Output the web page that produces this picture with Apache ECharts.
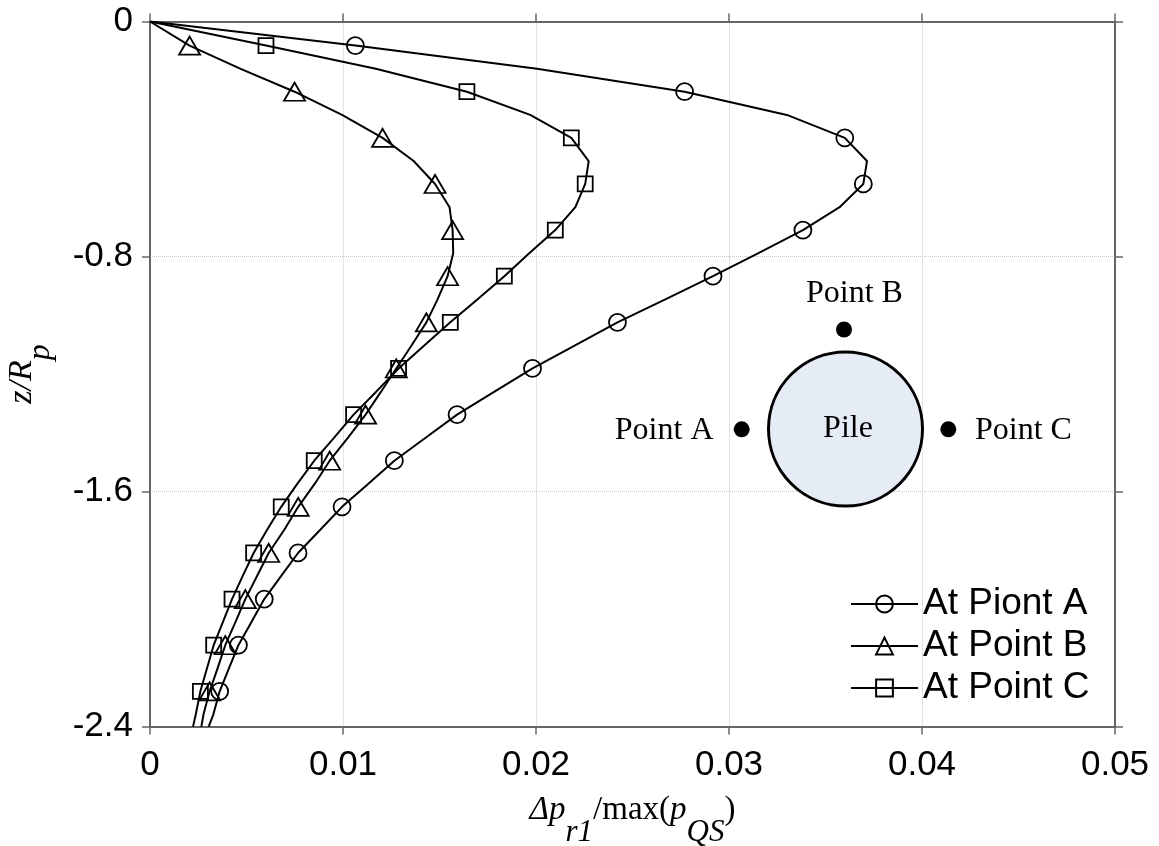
<!DOCTYPE html>
<html><head><meta charset="utf-8">
<script src="https://cdn.jsdelivr.net/npm/echarts@6/dist/echarts.min.js"></script>
<style>html,body{margin:0;padding:0;background:#fff}#c{width:1159px;height:846px}</style>
</head><body><div id="c"></div>
<script>
// depth z/Rp (positive downward); markers are at odd indices, last point is the bottom edge
const depth = [0, 0.082, 0.161, 0.239, 0.318, 0.396, 0.475, 0.553, 0.632, 0.710, 0.789, 0.867, 0.946, 1.024, 1.103, 1.181,
  1.260, 1.338, 1.417, 1.495, 1.574, 1.652, 1.731, 1.809, 1.888, 1.966, 2.045, 2.123, 2.202, 2.280, 2.359, 2.400];
const pointA = [0, 0.01064, 0.02005, 0.0277, 0.0330, 0.0360, 0.03715, 0.03696, 0.03573, 0.03383, 0.0315, 0.02917, 0.0267, 0.02422, 0.0220, 0.01982,
  0.01785, 0.01591, 0.01428, 0.01266, 0.0113, 0.00995, 0.00881, 0.00767, 0.00679, 0.00592, 0.00525, 0.00458, 0.00409, 0.00361, 0.00328, 0.00304];
const pointB = [0, 0.00205, 0.0047, 0.00749, 0.00995, 0.01205, 0.01366, 0.01477, 0.01552, 0.01568, 0.01571, 0.01542, 0.0149, 0.01432, 0.01355, 0.01276,
  0.01197, 0.01117, 0.01025, 0.00931, 0.00853, 0.00768, 0.00695, 0.00615, 0.00554, 0.00494, 0.00442, 0.0039, 0.0035, 0.00309, 0.00277, 0.00266];
const pointC = [0, 0.00601, 0.0117, 0.01642, 0.0197, 0.02183, 0.02273, 0.02255, 0.02204, 0.021, 0.01965, 0.01836, 0.01696, 0.01556, 0.01421, 0.01288,
  0.01172, 0.01055, 0.00953, 0.00851, 0.00763, 0.0068, 0.00606, 0.00537, 0.0048, 0.00425, 0.00377, 0.0033, 0.00295, 0.00261, 0.00237, 0.00223];
const seriesNames = ['At Piont A', 'At Point B', 'At Point C'];
const xTickLabels = ['0', '0.01', '0.02', '0.03', '0.04', '0.05'];
const yTickLabels = ['0', '-0.8', '-1.6', '-2.4'];

function build(xs) {
  return xs.map((x, i) => (i % 2 === 1 && i < xs.length - 1)
    ? { value: [x, -depth[i]] }
    : { value: [x, -depth[i]], symbol: 'none' });
}
const AX = '#666';
const serif = 'Liberation Serif';
const sans = 'Liberation Sans';
function mkSeries(name, xs, symbol, size, z) {
  return {
    name, type: 'line', data: build(xs), symbol, symbolSize: size, z,
    lineStyle: { color: '#000', width: 2 },
    itemStyle: { color: 'rgba(0,0,0,0)', borderColor: '#000', borderWidth: 1.8 },
    emphasis: { disabled: true }, animation: false, clip: true
  };
}
const chart = echarts.init(document.getElementById('c'), null, { renderer: 'canvas' });
chart.setOption({
  animation: false,
  backgroundColor: '#fff',
  grid: { left: 150, right: 44, top: 21.5, bottom: 119.4, containLabel: false, outerBoundsMode: 'none' },
  legend: {
    orient: 'vertical', left: 845, top: 579, itemWidth: 67, itemHeight: 21, itemGap: 2,
    textStyle: { fontFamily: sans, fontSize: 37, color: '#000', lineHeight: 40 },
    data: seriesNames
  },
  xAxis: [{
    type: 'value', min: 0, max: 0.05, interval: 0.01, position: 'bottom',
    axisLine: { show: true, onZero: false, lineStyle: { color: AX, width: 2 } },
    axisTick: { show: true, inside: false, length: 8, lineStyle: { color: AX, width: 1.5 } },
    axisLabel: { fontFamily: sans, fontSize: 35, color: '#000', margin: 21,
      formatter: v => xTickLabels[Math.round(v / 0.01)] },
    splitLine: { show: true, lineStyle: { type: 'dotted', color: '#c8c8c8', width: 1 } },
    name: '{i|Δp}{s|r1}{n|/max(}{i|p}{s|QS}{n|)}', nameLocation: 'middle', nameGap: 67, nameMoveOverlap: false,
    nameTextStyle: { fontFamily: serif, fontSize: 33, color: '#000', rich: {
      i: { fontFamily: serif, fontStyle: 'italic', fontSize: 33, lineHeight: 33, verticalAlign: 'top', color: '#000' },
      n: { fontFamily: serif, fontSize: 33, lineHeight: 33, verticalAlign: 'top', color: '#000' },
      s: { fontFamily: serif, fontStyle: 'italic', fontSize: 31, lineHeight: 55, verticalAlign: 'bottom', color: '#000' }
    } }
  }, {
    type: 'value', min: 0, max: 0.05, interval: 0.01, position: 'top',
    axisLine: { show: true, onZero: false, lineStyle: { color: AX, width: 2 } },
    axisTick: { show: true, inside: false, length: 8, lineStyle: { color: AX, width: 1.5 } },
    axisLabel: { show: false }, splitLine: { show: false }
  }],
  yAxis: [{
    type: 'value', min: -2.4, max: 0, interval: 0.8, position: 'left',
    axisLine: { show: true, onZero: false, lineStyle: { color: AX, width: 2 } },
    axisTick: { show: true, inside: false, length: 8, lineStyle: { color: AX, width: 1.5 } },
    axisLabel: { fontFamily: sans, fontSize: 35, color: '#000', margin: 17,
      formatter: v => yTickLabels[Math.round(-v / 0.8)] },
    splitLine: { show: true, lineStyle: { type: 'dotted', color: '#c8c8c8', width: 1 } },
    name: '{i|z/R}{s|p}', nameLocation: 'middle', nameGap: 93, nameRotate: 90, nameMoveOverlap: false,
    nameTextStyle: { fontFamily: serif, fontSize: 34, color: '#000', rich: {
      i: { fontFamily: serif, fontStyle: 'italic', fontSize: 34, lineHeight: 34, verticalAlign: 'top', color: '#000' },
      s: { fontFamily: serif, fontStyle: 'italic', fontSize: 32, lineHeight: 52, verticalAlign: 'bottom', color: '#000' }
    } }
  }, {
    type: 'value', min: -2.4, max: 0, interval: 0.8, position: 'right',
    axisLine: { show: true, onZero: false, lineStyle: { color: AX, width: 2 } },
    axisTick: { show: true, inside: false, length: 8, lineStyle: { color: AX, width: 1.5 } },
    axisLabel: { show: false }, splitLine: { show: false }
  }],
  series: [
    mkSeries(seriesNames[0], pointA, 'circle', 17, 3),
    mkSeries(seriesNames[1], pointB, 'triangle', [21, 18], 4),
    mkSeries(seriesNames[2], pointC, 'rect', 15, 5)
  ],
  graphic: [
    { type: 'circle', shape: { cx: 845.5, cy: 429, r: 77 }, style: { fill: '#e6ecf6', stroke: '#000', lineWidth: 3 }, z: 10 },
    { type: 'text', x: 848, y: 429, style: { text: 'Pile', fontFamily: serif, fontSize: 32, fill: '#000', align: 'center', verticalAlign: 'middle' }, z: 11 },
    { type: 'circle', shape: { cx: 844, cy: 329.5, r: 8 }, style: { fill: '#000' }, z: 10 },
    { type: 'circle', shape: { cx: 741.7, cy: 429.3, r: 8 }, style: { fill: '#000' }, z: 10 },
    { type: 'circle', shape: { cx: 948.3, cy: 429.3, r: 8 }, style: { fill: '#000' }, z: 10 },
    { type: 'text', x: 854.5, y: 294, style: { text: 'Point B', fontFamily: serif, fontSize: 32, fill: '#000', align: 'center', verticalAlign: 'middle' }, z: 11 },
    { type: 'text', x: 713.5, y: 431, style: { text: 'Point A', fontFamily: serif, fontSize: 32, fill: '#000', align: 'right', verticalAlign: 'middle' }, z: 11 },
    { type: 'text', x: 975, y: 431, style: { text: 'Point C', fontFamily: serif, fontSize: 32, fill: '#000', align: 'left', verticalAlign: 'middle' }, z: 11 }
  ]
});
</script>
</body></html>
